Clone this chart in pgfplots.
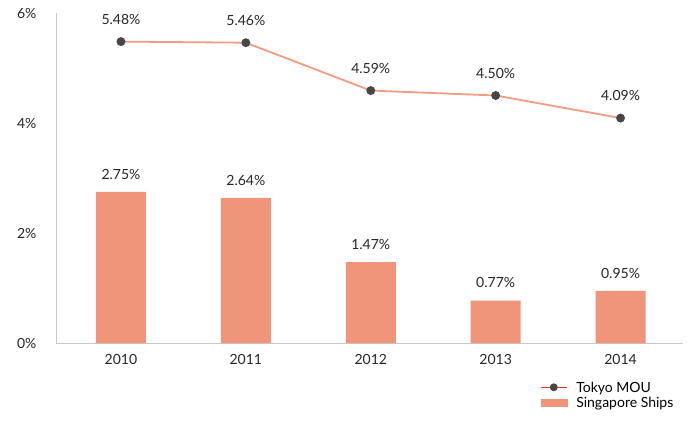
\documentclass[border=0pt]{standalone}
\usepackage{pgfplots}
\pgfplotsset{compat=1.18}
\usepackage{fontspec}
\setmainfont{Lato}
\definecolor{barcol}{HTML}{F0957A}
\definecolor{linecol}{HTML}{F39C80}
\definecolor{dotcol}{HTML}{474747}
\definecolor{axcol}{HTML}{C8C8C8}
\begin{document}
\begin{tikzpicture}[x=1pt,y=1pt]
\path (0,0) rectangle (700,420);
\begin{axis}[
  at={(56pt,77pt)}, anchor=south west,
  scale only axis, width=627pt, height=330pt,
  xmin=-0.52, xmax=4.5, ymin=0, ymax=6,
  axis x line*=bottom, axis y line*=left,
  axis line style={axcol, line width=1pt, -},
  xtick={0,1,2,3,4}, xticklabels={2010,2011,2012,2013,2014},
  ytick={0,2,4,6},
  yticklabel={\pgfmathprintnumber{\tick}\%},
  major tick length=0pt,
  tick label style={font=\fontsize{14}{16}\selectfont, text=black!85},
  xticklabel style={yshift=-8pt},
  yticklabel style={xshift=-16pt},
  /pgf/number format/assume math mode=true,
  legend style={at={(0.772,-0.115)}, anchor=north west, draw=none, fill=none,
    font=\fontsize{14}{16}\selectfont, row sep=3pt, column sep=8pt, inner sep=0pt,
    nodes={inner sep=1pt, text depth=0pt},
    legend cell align=left},
  clip=false,
]
\addplot[ybar, bar width=50pt, fill=barcol, draw=none,
  nodes near coords={\pgfmathprintnumber[fixed,precision=2,fixed zerofill]{\pgfplotspointmeta}\%},
  every node near coord/.style={font=\fontsize{14}{16}\selectfont, text=black!85, yshift=9pt},
  forget plot]
  coordinates {(0,2.75) (1,2.64) (2,1.47) (3,0.77) (4,0.95)};
\addplot[linecol, line width=1.8pt, mark=*, mark size=3.5pt,
  mark options={fill=dotcol, draw=dotcol},
  nodes near coords={\pgfmathprintnumber[fixed,precision=2,fixed zerofill]{\pgfplotspointmeta}\%},
  every node near coord/.style={font=\fontsize{14}{16}\selectfont, text=black!85, yshift=13pt},
  legend image code/.code={
    \draw[color=red!70!linecol, line width=1pt] (0pt,0pt) -- (26pt,0pt);
    \fill[dotcol] (13pt,0pt) circle (3pt);}]
  coordinates {(0,5.48) (1,5.46) (2,4.59) (3,4.50) (4,4.09)};
\addlegendentry{Tokyo MOU}
\addlegendimage{legend image code/.code={\fill[barcol] (0pt,-3.5pt) rectangle (26pt,3.5pt);}}
\addlegendentry{Singapore Ships}
\end{axis}
\end{tikzpicture}
\end{document}
